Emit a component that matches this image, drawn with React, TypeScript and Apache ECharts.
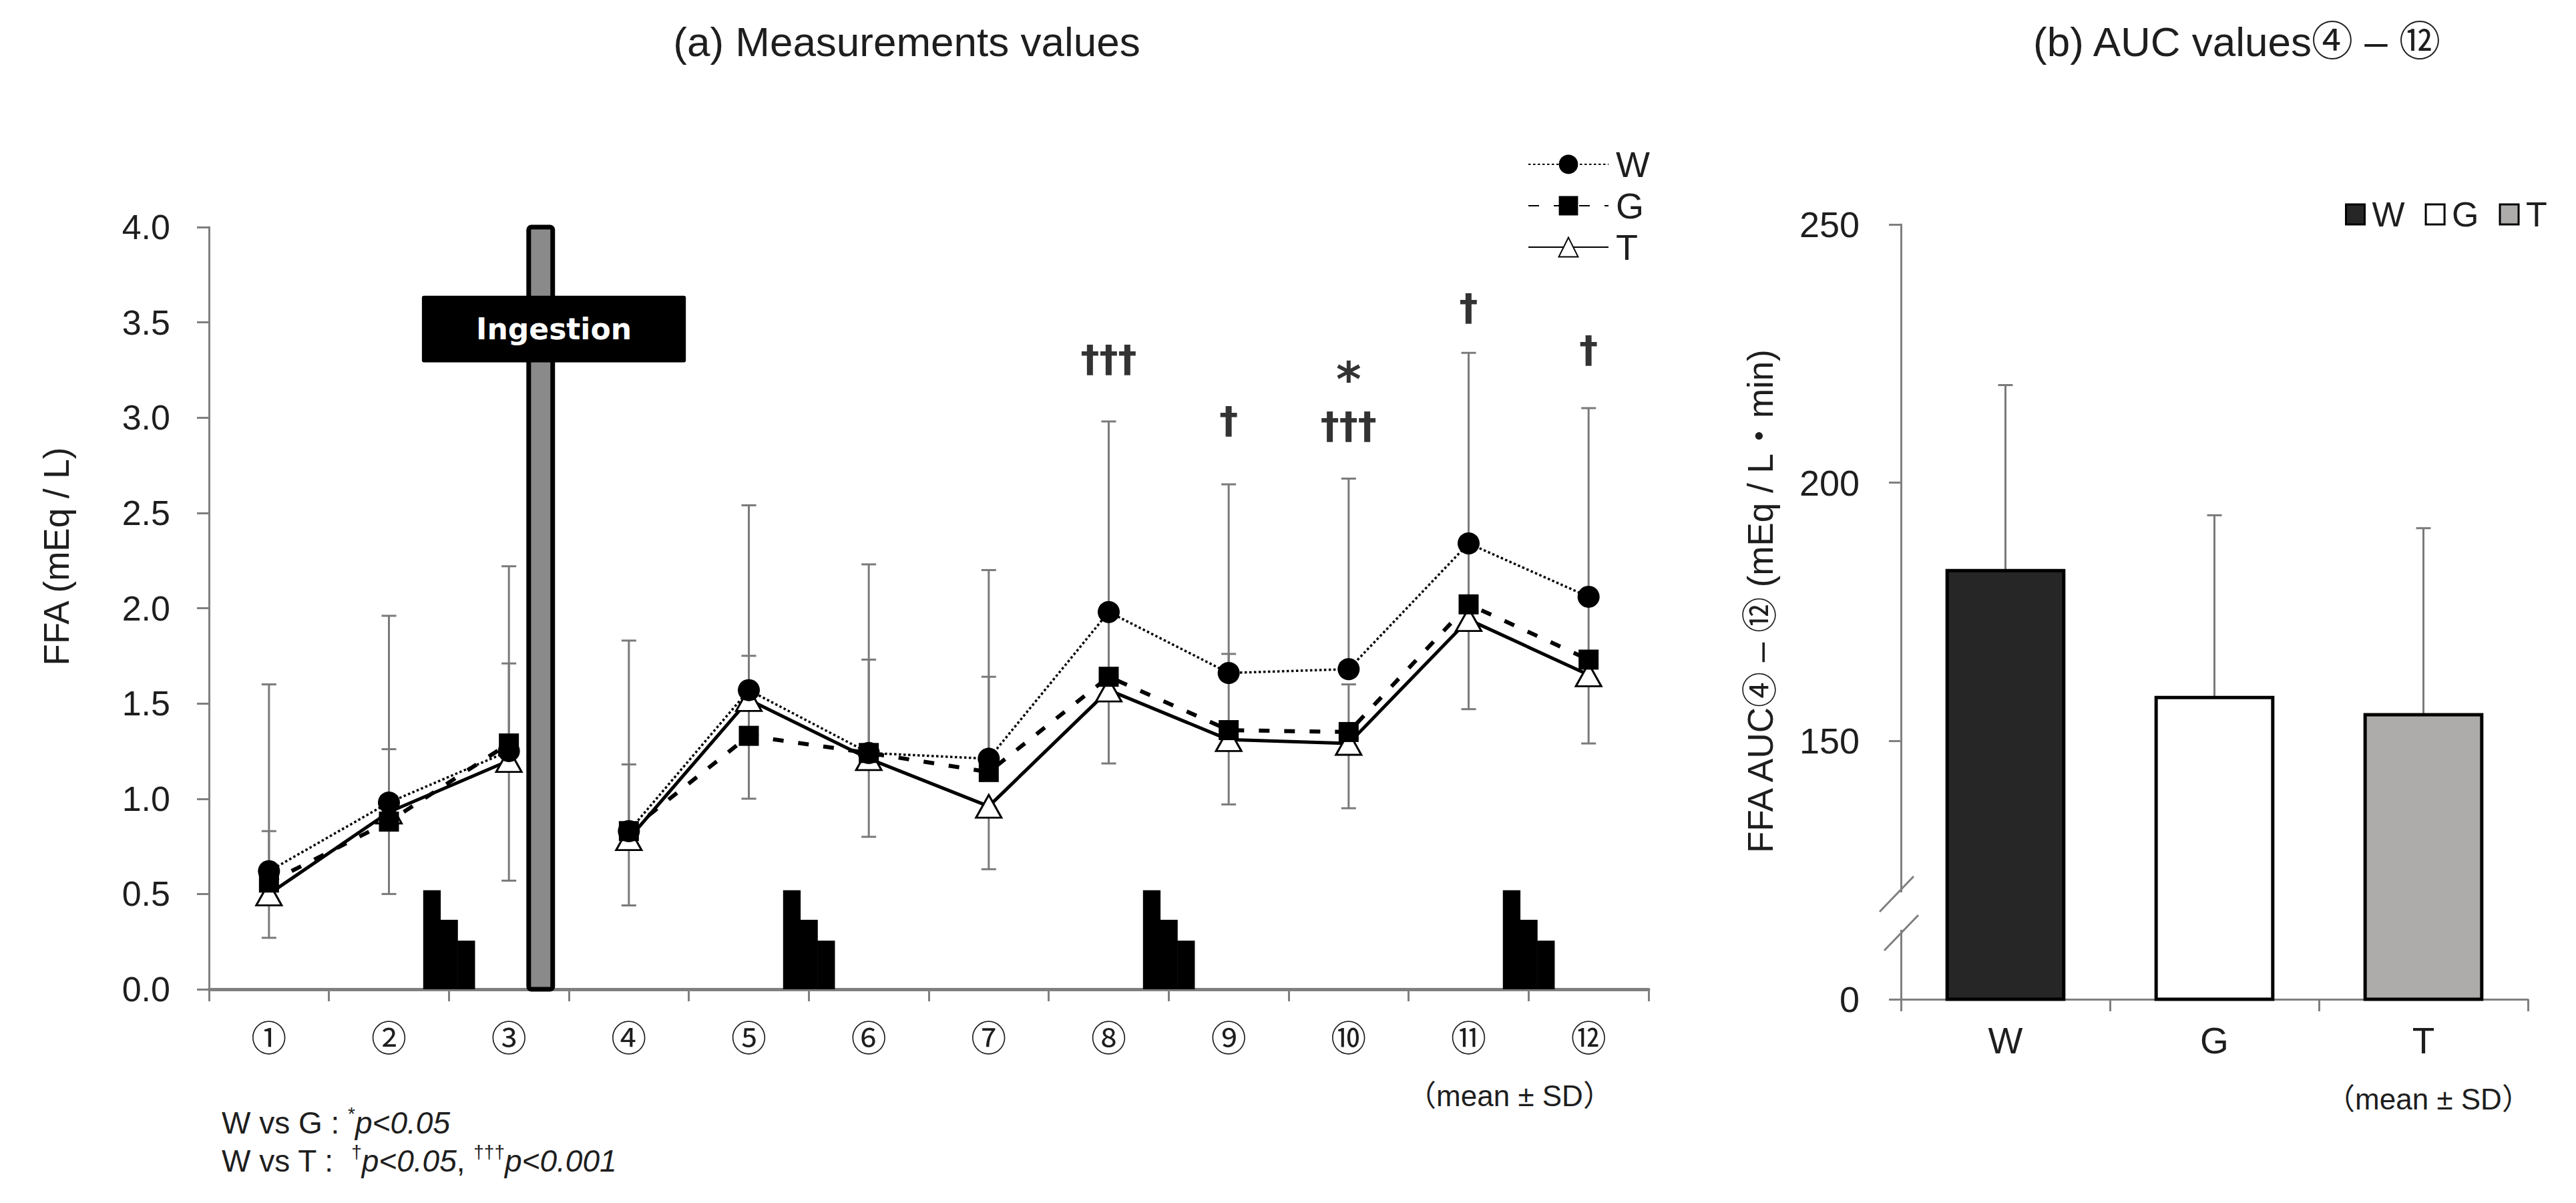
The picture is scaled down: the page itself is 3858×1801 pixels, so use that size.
import React, { useEffect, useRef } from 'react';
import * as echarts from 'echarts';

// ---------- data: (a) measurement values ----------
const timePoints = ['①', '②', '③', '④', '⑤', '⑥', '⑦', '⑧', '⑨', '⑩', '⑪', '⑫'];
const meanW = [0.62, 0.98, 1.25, 0.83, 1.57, 1.24, 1.21, 1.98, 1.66, 1.68, 2.34, 2.06];
const meanG = [0.56, 0.88, 1.29, 0.83, 1.33, 1.24, 1.14, 1.64, 1.36, 1.35, 2.02, 1.73];
const meanT = [0.5, 0.93, 1.2, 0.79, 1.52, 1.21, 0.96, 1.57, 1.31, 1.29, 1.94, 1.65];
const sdW = [0.98, 0.98, 0.97, 1.0, 0.97, 0.99, 0.99, 1.0, 0.99, 1.0, 1.0, 0.99];
const sdG = [0.27, 0.38, 0.42, 0.35, 0.42, 0.49, 0.5, 0.33, 0.4, 0.25, 0.3, 0.3];
const sdT = [0.23, 0.43, 0.63, 0.35, 0.52, 0.41, 0.33, 0.385, 0.34, 0.34, 0.47, 0.36];

// significance marks
const sigIndex = [7, 8, 9, 9, 10, 11];
const sigY = [3.31, 2.99, 3.2, 2.96, 3.58, 3.36];
const sigText = ['†††', '†', '*', '†††', '†', '†'];

// meal step blocks (after category index) and ingestion bar
const mealAfter = [1, 4, 7, 10];
const mealSteps = [0.52, 0.365, 0.255];
const ingestionAfter = [2];
const ingestionTop = 4.0;
const ingestionBox = [3.29, 3.64];
const ingestionLabel = 'Ingestion';

// ---------- data: (b) AUC values ----------
const groups = ['W', 'G', 'T'];
const aucMean = [183, 158.4, 155.1];
const aucSD = [35.9, 35.3, 36.1];
const barColors = ['#262626', '#ffffff', '#aeacaa'];

const LATIN = "'Liberation Sans', Arial, 'Noto Sans CJK JP', sans-serif";
const CJK = "'Noto Sans CJK JP', 'Liberation Sans', sans-serif";
const AXIS = '#7f7f7f';
const ERR = '#7a7a7a';
const TXT = '#1e1e1e';

const pre = (arr: number[]) => arr.map((v, i) => (i <= 2 ? v : '-'));
const post = (arr: number[]) => arr.map((v, i) => (i >= 3 ? v : '-'));

function buildOption() {
  const errData: number[][] = [];
  meanW.forEach((m, i) => errData.push([i, m, m + sdW[i]]));
  meanG.forEach((m, i) => errData.push([i, m, m + sdG[i]]));
  meanT.forEach((m, i) => errData.push([i, m, m - sdT[i]]));

  const errRender = (params: any, api: any) => {
    const i = api.value(0);
    const p0 = api.coord([i, api.value(1)]);
    const p1 = api.coord([i, api.value(2)]);
    const cw = 11;
    return {
      type: 'group',
      children: [
        { type: 'line', shape: { x1: p0[0], y1: p0[1], x2: p1[0], y2: p1[1] }, style: { stroke: ERR, lineWidth: 3 } },
        { type: 'line', shape: { x1: p1[0] - cw, y1: p1[1], x2: p1[0] + cw, y2: p1[1] }, style: { stroke: ERR, lineWidth: 3 } },
      ],
    };
  };

  const styleW = {
    symbol: 'circle',
    symbolSize: 33,
    itemStyle: { color: '#000' },
    lineStyle: { color: '#000', width: 3.5, type: [3.5, 3.5] },
  };
  const styleG = {
    symbol: 'rect',
    symbolSize: 30,
    itemStyle: { color: '#000' },
    lineStyle: { color: '#000', width: 6, type: [16, 22] },
  };
  const styleT = {
    symbol: 'triangle',
    symbolSize: [38, 34],
    itemStyle: { color: '#fff', borderColor: '#000', borderWidth: 3 },
    lineStyle: { color: '#000', width: 5, type: 'solid' },
  };

  const mkLine = (name: string, data: any[], st: any, z: number) => ({
    type: 'line',
    name,
    xAxisIndex: 0,
    yAxisIndex: 0,
    data,
    connectNulls: false,
    showAllSymbol: true,
    z,
    silent: true,
    ...st,
  });

  const series: any[] = [
    {
      type: 'custom',
      name: 'errbars',
      xAxisIndex: 0,
      yAxisIndex: 0,
      data: errData,
      encode: { x: 0, y: [1, 2] },
      renderItem: errRender,
      z: 1,
      silent: true,
    },
    {
      type: 'custom',
      name: 'meals',
      xAxisIndex: 0,
      yAxisIndex: 0,
      data: mealAfter.map((i) => [i, 0]),
      z: 1,
      silent: true,
      renderItem: (params: any, api: any) => {
        const idx = api.value(0);
        const band = api.size([1, 0])[0];
        const base = api.coord([idx, 0]);
        const xb = base[0] + band / 2;
        const w = band * 0.143;
        return {
          type: 'group',
          children: mealSteps.map((h, k) => {
            const top = api.coord([idx, h])[1];
            return {
              type: 'rect',
              shape: { x: xb + (k - 1.5) * w, y: top, width: w + 0.6, height: base[1] - top },
              style: { fill: '#000' },
            };
          }),
        };
      },
    },
    {
      type: 'custom',
      name: 'ingestion',
      xAxisIndex: 0,
      yAxisIndex: 0,
      data: ingestionAfter.map((i) => [i, ingestionTop]),
      z: 2,
      silent: true,
      renderItem: (params: any, api: any) => {
        const idx = api.value(0);
        const band = api.size([1, 0])[0];
        const c = api.coord([idx, 0]);
        const top = api.coord([idx, api.value(1)])[1];
        const bw = band * 0.2;
        const bx = c[0] + band * 0.265 - bw / 2;
        const bTop = api.coord([idx, ingestionBox[1]])[1];
        const bBot = api.coord([idx, ingestionBox[0]])[1];
        const boxW = band * 2.2;
        const boxCx = c[0] + band * 0.375;
        return {
          type: 'group',
          children: [
            {
              type: 'rect',
              shape: { x: bx, y: top, width: bw, height: c[1] - top, r: 4 },
              style: { fill: '#8a8a8a', stroke: '#000', lineWidth: 7 },
            },
            {
              type: 'rect',
              shape: { x: boxCx - boxW / 2, y: bTop, width: boxW, height: bBot - bTop, r: 3 },
              style: { fill: '#000' },
            },
            {
              type: 'text',
              x: boxCx,
              y: (bTop + bBot) / 2,
              style: {
                text: ingestionLabel,
                fill: '#fff',
                fontSize: 44,
                fontWeight: 'bold',
                fontFamily: "'DejaVu Sans', Verdana, sans-serif",
                align: 'center',
                verticalAlign: 'middle',
              },
            },
          ],
        };
      },
    },
    mkLine('T', pre(meanT), styleT, 3),
    mkLine('T', post(meanT), styleT, 3),
    mkLine('W', pre(meanW), styleW, 4),
    mkLine('W', post(meanW), styleW, 4),
    mkLine('G', pre(meanG), styleG, 5),
    mkLine('G', post(meanG), styleG, 5),
    {
      type: 'scatter',
      name: 'sig',
      xAxisIndex: 0,
      yAxisIndex: 0,
      symbolSize: 1,
      itemStyle: { color: 'rgba(0,0,0,0)' },
      silent: true,
      z: 6,
      data: sigIndex.map((i, k) => ({
        value: [i, sigY[k]],
        name: sigText[k],
        label: sigText[k] === '*' ? { fontSize: 72 } : {},
      })),
      label: {
        show: true,
        position: 'inside',
        formatter: '{b}',
        fontSize: 56,
        fontWeight: 'bold',
        color: '#000',
        fontFamily: "'DejaVu Sans', sans-serif",
      },
    },
    // (b) error bars
    {
      type: 'custom',
      name: 'aucErr',
      xAxisIndex: 1,
      yAxisIndex: 1,
      data: aucMean.map((m, k) => [k, m, m + aucSD[k]]),
      encode: { x: 0, y: [1, 2] },
      renderItem: errRender,
      z: 1,
      silent: true,
    },
  ];

  groups.forEach((g, k) => {
    series.push({
      type: 'custom',
      name: g + ' ',
      xAxisIndex: 1,
      yAxisIndex: 1,
      data: [[k, aucMean[k]]],
      itemStyle: { color: barColors[k] },
      z: 2,
      silent: true,
      renderItem: (params: any, api: any) => {
        const i = api.value(0);
        const band = api.size([1, 0])[0];
        const base = api.coord([i, 100]);
        const top = api.coord([i, api.value(1)]);
        const w = band * 0.558;
        return {
          type: 'rect',
          shape: { x: top[0] - w / 2, y: top[1], width: w, height: base[1] - top[1] },
          style: { fill: barColors[k], stroke: '#000', lineWidth: 5 },
        };
      },
    });
  });

  const axisLine = { show: true, lineStyle: { color: AXIS, width: 3 } };
  const axisTick = { show: true, length: 18, lineStyle: { color: AXIS, width: 3 } };

  const footRich = {
    n: { fontSize: 46, fontFamily: LATIN, fill: TXT, lineHeight: 56 },
    i: { fontSize: 46, fontFamily: LATIN, fontStyle: 'italic', fill: TXT, lineHeight: 56 },
    s: { fontSize: 28, fontFamily: LATIN, fill: TXT, lineHeight: 56, verticalAlign: 'top' },
  };

  return {
    animation: false,
    backgroundColor: '#ffffff',
    grid: [
      { left: 313, top: 340, width: 2156, height: 1141 },
      { left: 2847, top: 336, width: 939, height: 1160 },
    ],
    xAxis: [
      {
        type: 'category',
        gridIndex: 0,
        data: timePoints,
        boundaryGap: true,
        axisLine: { show: true, onZero: false, lineStyle: { color: AXIS, width: 5 } },
        axisTick: { show: true, length: 18, interval: 0, lineStyle: { color: AXIS, width: 3 } },
        axisLabel: { interval: 0, fontSize: 53, fontFamily: CJK, color: TXT, margin: 43 },
        splitLine: { show: false },
      },
      {
        type: 'category',
        gridIndex: 1,
        data: groups,
        boundaryGap: true,
        axisLine: { show: true, onZero: false, lineStyle: { color: AXIS, width: 3 } },
        axisTick: { show: true, length: 18, interval: 0, lineStyle: { color: AXIS, width: 3 } },
        axisLabel: { interval: 0, fontSize: 55, fontFamily: LATIN, color: TXT, margin: 34 },
        splitLine: { show: false },
      },
    ],
    yAxis: [
      {
        type: 'value',
        gridIndex: 0,
        min: 0,
        max: 4,
        interval: 0.5,
        axisLine,
        axisTick,
        splitLine: { show: false },
        axisLabel: {
          fontSize: 52,
          fontFamily: LATIN,
          color: TXT,
          margin: 58,
          formatter: (v: number) => v.toFixed(1),
        },
      },
      {
        type: 'value',
        gridIndex: 1,
        min: 100,
        max: 250,
        interval: 50,
        axisLine,
        axisTick,
        splitLine: { show: false },
        axisLabel: {
          fontSize: 54,
          fontFamily: LATIN,
          color: TXT,
          margin: 62,
          formatter: (v: number) => (v === 100 ? '0' : String(v)),
        },
      },
    ],
    legend: [
      {
        data: ['W', 'G', 'T'],
        orient: 'vertical',
        left: 2283,
        top: 214,
        itemWidth: 120,
        itemHeight: 36,
        itemGap: 8,
        selectedMode: false,
        textStyle: { fontSize: 54, fontFamily: LATIN, color: TXT, padding: [0, 0, 0, 6] },
      },
      {
        data: groups.map((g, k) => ({
          name: g + ' ',
          icon: 'rect',
          itemStyle: { color: barColors[k], borderColor: '#000', borderWidth: 3 },
        })),
        orient: 'horizontal',
        left: 3507,
        top: 290,
        itemWidth: 28,
        itemHeight: 30,
        itemGap: 30,
        selectedMode: false,
        formatter: (n: string) => n.trim(),
        textStyle: { fontSize: 52, fontFamily: LATIN, color: TXT, padding: [0, 0, 0, 6] },
      },
    ],
    graphic: [
      {
        type: 'text',
        x: 1358,
        y: 62,
        style: { text: '(a) Measurements values', fontSize: 62, fontFamily: LATIN, fill: TXT, align: 'center', verticalAlign: 'middle' },
      },
      {
        type: 'text',
        x: 3350,
        y: 62,
        style: { text: '(b) AUC values④ – ⑫', fontSize: 62, fontFamily: LATIN, fill: TXT, align: 'center', verticalAlign: 'middle' },
      },
      {
        type: 'text',
        x: 84,
        y: 833,
        rotation: Math.PI / 2,
        style: { text: 'FFA (mEq / L)', fontSize: 53, fontFamily: LATIN, fill: TXT, align: 'center', verticalAlign: 'middle' },
      },
      {
        type: 'text',
        x: 2636,
        y: 900,
        rotation: Math.PI / 2,
        style: { text: 'FFA AUC④ – ⑫ (mEq / L・min)', fontSize: 53, fontFamily: LATIN, fill: TXT, align: 'center', verticalAlign: 'middle' },
      },
      {
        type: 'text',
        x: 2261,
        y: 1640,
        style: { text: '（mean ± SD）', fontSize: 44, fontFamily: LATIN, fill: TXT, align: 'center', verticalAlign: 'middle' },
      },
      {
        type: 'text',
        x: 3637,
        y: 1645,
        style: { text: '（mean ± SD）', fontSize: 44, fontFamily: LATIN, fill: TXT, align: 'center', verticalAlign: 'middle' },
      },
      {
        type: 'text',
        x: 332,
        y: 1681,
        style: { text: '{n|W vs G : }{s|*}{i|p<0.05}', rich: footRich, align: 'left', verticalAlign: 'middle' },
      },
      {
        type: 'text',
        x: 332,
        y: 1738,
        style: {
          text: '{n|W vs T :  }{s|†}{i|p<0.05}{n|, }{s|†††}{i|p<0.001}',
          rich: footRich,
          align: 'left',
          verticalAlign: 'middle',
        },
      },
      // axis break on (b) y axis
      { type: 'rect', z: 100, shape: { x: 2838, y: 1336, width: 18, height: 56 }, style: { fill: '#fff' } },
      { type: 'line', z: 101, shape: { x1: 2815, y1: 1365, x2: 2866, y2: 1312 }, style: { stroke: AXIS, lineWidth: 3 } },
      { type: 'line', z: 101, shape: { x1: 2822, y1: 1423, x2: 2873, y2: 1370 }, style: { stroke: AXIS, lineWidth: 3 } },
    ],
    series,
  };
}

export default function App() {
  const ref = useRef<HTMLDivElement>(null);
  useEffect(() => {
    if (!ref.current) return;
    const chart = echarts.init(ref.current, null, { renderer: 'svg' });
    chart.setOption(buildOption() as any);
    return () => chart.dispose();
  }, []);
  return (
    <div
      ref={ref}
      style={{ position: 'absolute', left: 0, top: 0, width: 3858, height: 1801, background: '#fff' }}
    />
  );
}
